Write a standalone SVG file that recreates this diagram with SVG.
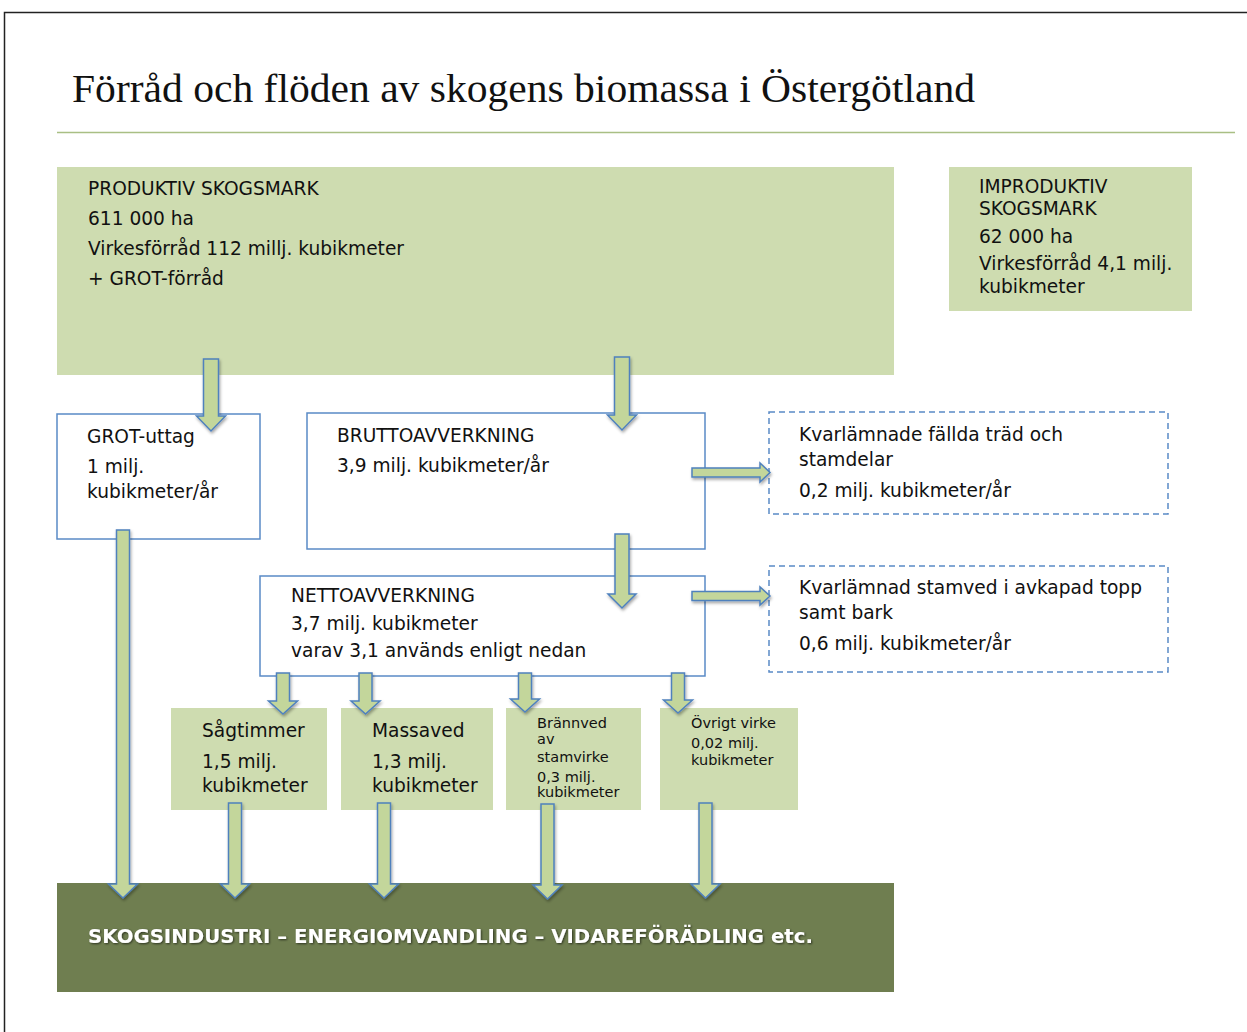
<svg xmlns="http://www.w3.org/2000/svg" width="1247" height="1032" viewBox="0 0 1247 1032">
<defs>
<filter id="sh" x="-50%" y="-20%" width="200%" height="150%">
<feDropShadow dx="1" dy="2" stdDeviation="1.5" flood-color="#000" flood-opacity="0.35"/>
</filter>
<filter id="tsh" x="-5%" y="-30%" width="110%" height="160%">
<feDropShadow dx="1" dy="1" stdDeviation="1" flood-color="#000" flood-opacity="0.6"/>
</filter>
<filter id="hrsh" x="-5%" y="-200%" width="110%" height="500%">
<feGaussianBlur stdDeviation="2"/>
</filter>
</defs>
<style>
.t{font-family:"DejaVu Sans",Verdana,sans-serif;font-size:18.6px;fill:#111}
.s{font-family:"DejaVu Sans",Verdana,sans-serif;font-size:14.5px;fill:#111}
.lg{fill:#cedcb0}
.wb{fill:#fff;stroke:#5a8ac6;stroke-width:1.5}
.db{fill:#fff;stroke:#5a8ac6;stroke-width:1.5;stroke-dasharray:6 4}
.ar{fill:#c3d69b;stroke:#4f81bd;stroke-width:1.5;stroke-linejoin:miter;filter:url(#sh)}
</style>
<rect width="1247" height="1032" fill="#fff"/>
<path d="M4.5 1032 V12.5 H1247" fill="none" stroke="#222" stroke-width="1.5"/>
<text x="72" y="102" font-family="'Liberation Serif','DejaVu Serif',serif" font-size="39" fill="#111" textLength="903" lengthAdjust="spacingAndGlyphs">Förråd och flöden av skogens biomassa i Östergötland</text>
<line x1="57" y1="136" x2="1235" y2="136" stroke="#888" stroke-width="3" opacity="0.5" filter="url(#hrsh)"/>
<line x1="57" y1="132.5" x2="1235" y2="132.5" stroke="#a9bf84" stroke-width="1.5"/>

<g id="produktiv">
<rect class="lg" x="57" y="167" width="837" height="208"/>
<text class="t" x="88" y="195">PRODUKTIV SKOGSMARK</text>
<text class="t" x="88" y="225">611 000 ha</text>
<text class="t" x="88" y="255">Virkesförråd 112 millj. kubikmeter</text>
<text class="t" x="88" y="285">+ GROT-förråd</text>
</g>
<g id="improduktiv">
<rect class="lg" x="949" y="167" width="243" height="144"/>
<text class="t" x="979" y="193">IMPRODUKTIV</text>
<text class="t" x="979" y="215">SKOGSMARK</text>
<text class="t" x="979" y="243">62 000 ha</text>
<text class="t" x="979" y="270">Virkesförråd 4,1 milj.</text>
<text class="t" x="979" y="293">kubikmeter</text>
</g>
<g id="grot">
<rect class="wb" x="57" y="414" width="203" height="125"/>
<text class="t" x="87" y="443">GROT-uttag</text>
<text class="t" x="87" y="473">1 milj.</text>
<text class="t" x="87" y="498">kubikmeter/år</text>
</g>
<g id="brutto">
<rect class="wb" x="307" y="413" width="398" height="136"/>
<text class="t" x="337" y="442">BRUTTOAVVERKNING</text>
<text class="t" x="337" y="472">3,9 milj. kubikmeter/år</text>
</g>
<g id="netto">
<rect class="wb" x="260" y="576" width="445" height="100"/>
<text class="t" x="291" y="602">NETTOAVVERKNING</text>
<text class="t" x="291" y="630">3,7 milj. kubikmeter</text>
<text class="t" x="291" y="657">varav 3,1 används enligt nedan</text>
</g>
<g id="kvar1">
<rect class="db" x="769" y="412" width="399" height="102"/>
<text class="t" x="799" y="441">Kvarlämnade fällda träd och</text>
<text class="t" x="799" y="466">stamdelar</text>
<text class="t" x="799" y="497">0,2 milj. kubikmeter/år</text>
</g>
<g id="kvar2">
<rect class="db" x="769" y="566" width="399" height="106"/>
<text class="t" x="799" y="594">Kvarlämnad stamved i avkapad topp</text>
<text class="t" x="799" y="619">samt bark</text>
<text class="t" x="799" y="650">0,6 milj. kubikmeter/år</text>
</g>
<g id="sagtimmer">
<rect class="lg" x="171" y="708" width="156" height="102"/>
<text class="t" x="202" y="737">Sågtimmer</text>
<text class="t" x="202" y="768">1,5 milj.</text>
<text class="t" x="202" y="792">kubikmeter</text>
</g>
<g id="massaved">
<rect class="lg" x="341" y="708" width="152" height="102"/>
<text class="t" x="372" y="737">Massaved</text>
<text class="t" x="372" y="768">1,3 milj.</text>
<text class="t" x="372" y="792">kubikmeter</text>
</g>
<g id="brannved">
<rect class="lg" x="506" y="708" width="135" height="102"/>
<text class="s" x="537" y="728">Brännved</text>
<text class="s" x="537" y="744">av</text>
<text class="s" x="537" y="762">stamvirke</text>
<text class="s" x="537" y="782">0,3 milj.</text>
<text class="s" x="537" y="797">kubikmeter</text>
</g>
<g id="ovrigt">
<rect class="lg" x="660" y="708" width="138" height="102"/>
<text class="s" x="691" y="728">Övrigt virke</text>
<text class="s" x="691" y="748">0,02 milj.</text>
<text class="s" x="691" y="765">kubikmeter</text>
</g>
<g id="industri">
<rect x="57" y="883" width="837" height="109" fill="#6f7e50"/>
<text x="88" y="943" font-family="'DejaVu Sans',Verdana,sans-serif" font-weight="bold" font-size="20" fill="#fff" filter="url(#tsh)" textLength="725" lengthAdjust="spacingAndGlyphs">SKOGSINDUSTRI – ENERGIOMVANDLING – VIDAREFÖRÄDLING etc.</text>
</g>

<g id="connectors">
<path class="ar" d="M203.5 359 H218.5 V416 H225.5 L211 431 L196.5 416 H203.5 Z"/>
<path class="ar" d="M614.5 357 H629.5 V415 H636.5 L622 430 L607.5 415 H614.5 Z"/>
<path class="ar" d="M615 534 H629 V594 H636 L622 608 L608 594 H615 Z"/>
<path class="ar" d="M692 468 H760 V463 L770 472.5 L760 482 V477 H692 Z"/>
<path class="ar" d="M692 591.5 H760 V587 L770 596 L760 605 V600.5 H692 Z"/>
<path class="ar" d="M276.5 673 H289.5 V701 H297.5 L283 714 L268.5 701 H276.5 Z"/>
<path class="ar" d="M359 673 H372 V701 H380 L365.5 714 L351 701 H359 Z"/>
<path class="ar" d="M518.5 673 H531.5 V699 H539.5 L525 712 L510.5 699 H518.5 Z"/>
<path class="ar" d="M671.5 673 H684.5 V700 H692.5 L678 713 L663.5 700 H671.5 Z"/>
<path class="ar" d="M116.5 530 H129.5 V884 H137.5 L123 898 L108.5 884 H116.5 Z"/>
<path class="ar" d="M228.5 803 H241.5 V884 H249.5 L235 898 L220.5 884 H228.5 Z"/>
<path class="ar" d="M377.5 803 H390.5 V884 H398.5 L384 898 L369.5 884 H377.5 Z"/>
<path class="ar" d="M541 804 H554 V885 H562 L547.5 899 L533 885 H541 Z"/>
<path class="ar" d="M699 803 H712 V884 H720 L705.5 898 L691 884 H699 Z"/>
</g>
</svg>
